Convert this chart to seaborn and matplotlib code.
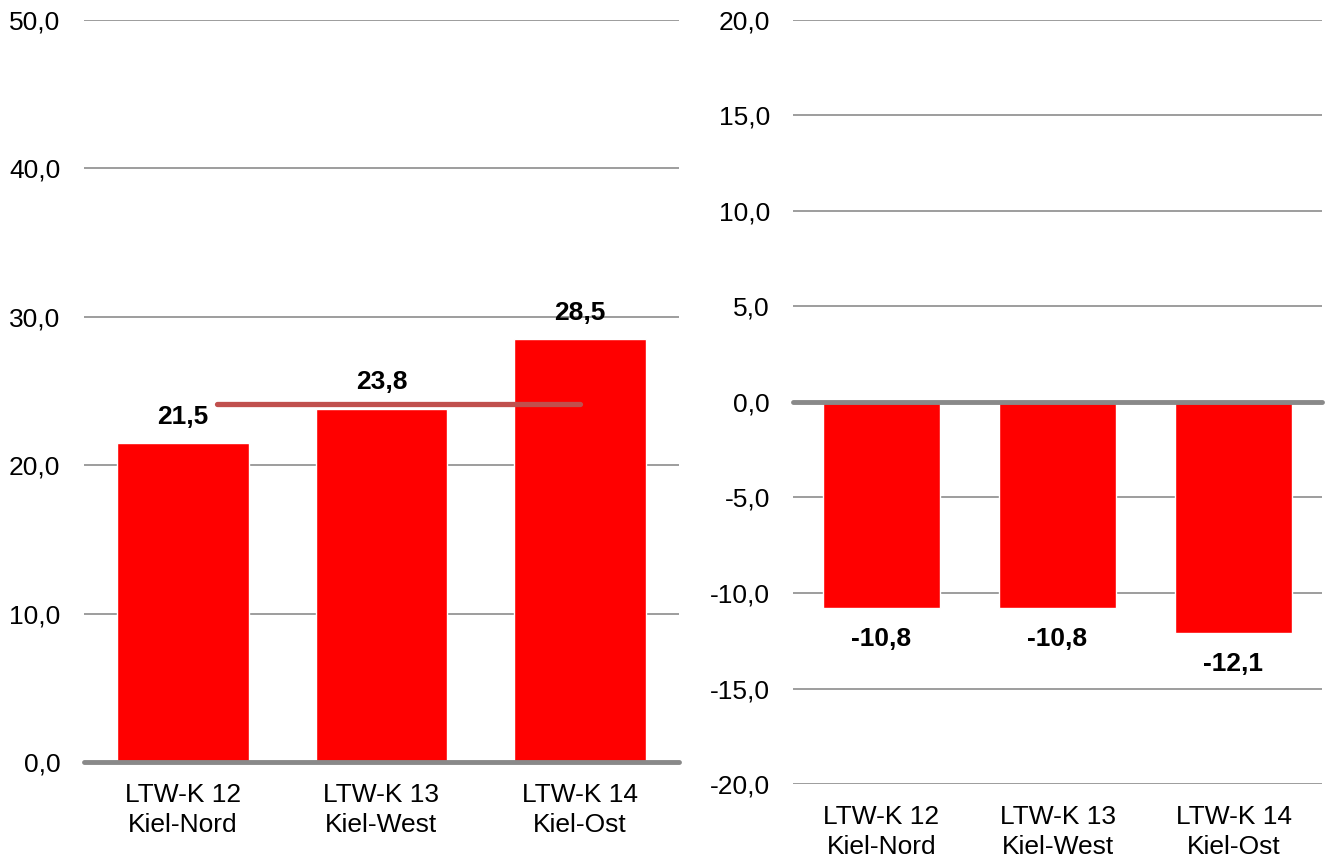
import matplotlib
matplotlib.use("Agg")
import matplotlib.pyplot as plt
import seaborn as sns
import pandas as pd

# ---- data ----
categories = ["LTW-K 12\nKiel-Nord", "LTW-K 13\nKiel-West", "LTW-K 14\nKiel-Ost"]
values_left = [21.5, 23.8, 28.5]
values_right = [-10.8, -10.8, -12.1]
reference_left = 24.1
left_ticks = [0, 10, 20, 30, 40, 50]
right_ticks = [-20, -15, -10, -5, 0, 5, 10, 15, 20]

sns.set_theme(style="white")
plt.rcParams["font.family"] = ["Liberation Sans", "DejaVu Sans"]
plt.rcParams["text.color"] = "black"
plt.rcParams["xtick.color"] = "black"
plt.rcParams["ytick.color"] = "black"

fig = plt.figure(figsize=(13.25, 8.61), dpi=100)
axL = fig.add_axes([84 / 1325, 1 - 762 / 861, (679 - 84) / 1325, (762 - 20) / 861])
axR = fig.add_axes([793.5 / 1325, 1 - 784 / 861, (1321.5 - 793.5) / 1325, (784 - 20) / 861])

RED = "#FF0000"
GRID = "#8C8C8C"
FS = 19


def fmt(v):
    return f"{v:.1f}".replace(".", ",")


def style(ax, ticks, zero):
    for s in ax.spines.values():
        s.set_visible(False)
    ax.set_yticks(ticks)
    ax.set_yticklabels([fmt(t) for t in ticks], fontsize=FS)
    ax.set_ylim(ticks[0], ticks[-1])
    ax.set_xlim(-0.5, 2.5)
    for t in ticks:
        if t == zero:
            continue
        ax.axhline(t, color=GRID, lw=1.2, zorder=0)
    ax.axhline(zero, color="#898989", lw=3.5, zorder=3, clip_on=False)
    ax.tick_params(axis="both", length=0, labelsize=FS, colors="black")
    ax.tick_params(axis="y", pad=17)
    ax.tick_params(axis="x", pad=15)
    ax.set_xlabel("")
    ax.set_ylabel("")
    for lab in ax.get_xticklabels():
        lab.set_linespacing(1.3)


dfL = pd.DataFrame({"cat": categories, "val": values_left})
dfR = pd.DataFrame({"cat": categories, "val": values_right})

sns.barplot(data=dfL, x="cat", y="val", ax=axL, color=RED, saturation=1, width=0.665, zorder=2)
sns.barplot(data=dfR, x="cat", y="val", ax=axR, color=RED, saturation=1, width=0.665, zorder=2)

style(axL, left_ticks, 0)
style(axR, right_ticks, 0)

for i, v in enumerate(values_left):
    axL.annotate(fmt(v), (i, v), xytext=(0, 19), textcoords="offset points",
                 ha="center", va="center", fontsize=FS, fontweight="bold", color="black")
for i, v in enumerate(values_right):
    axR.annotate(fmt(v), (i, v), xytext=(0, -22), textcoords="offset points",
                 ha="center", va="center", fontsize=FS, fontweight="bold", color="black")

axL.plot([0.17, 2.0], [reference_left, reference_left], color="#C0504D",
         lw=3.8, solid_capstyle="round", zorder=4)

fig.savefig("out.png", dpi=100)
